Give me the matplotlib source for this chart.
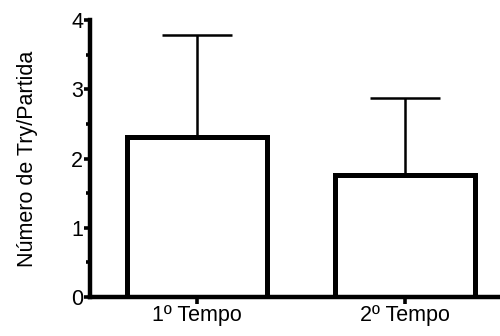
import matplotlib.pyplot as plt
import numpy as np
from matplotlib.ticker import MultipleLocator

plt.rcParams['font.family'] = ['Liberation Sans', 'DejaVu Sans']

categories = ['1º Tempo', '2º Tempo']
means = [2.31, 1.76]
errors = [1.47, 1.11]

fig = plt.figure(figsize=(5, 3.36), dpi=100)
ax = fig.add_axes([0.18, 0.116, 0.82, 0.824])

x = np.arange(len(categories))
ax.bar(x, means, width=0.67, color='white', edgecolor='black', linewidth=3.6, zorder=2)
ax.errorbar(x, means, yerr=[[0, 0], errors], fmt='none', ecolor='black',
            elinewidth=1.8, capsize=25, capthick=1.8, zorder=1)

ax.set_xlim(-0.514, 1.457)
ax.set_ylim(0, 4)
ax.set_xticks(x)
ax.set_xticklabels(categories, fontsize=15.5)
ax.yaxis.set_major_locator(MultipleLocator(1))
ax.yaxis.set_minor_locator(MultipleLocator(0.5))
ax.tick_params(axis='y', which='major', length=4, width=2.6, labelsize=15.5, pad=1)
ax.tick_params(axis='y', which='minor', length=3, width=2.6)
ax.tick_params(axis='x', length=5, width=2.6, pad=1)
ax.set_ylabel('Número de Try/Partida', fontsize=15.5, labelpad=24)

for s in ['top', 'right']:
    ax.spines[s].set_visible(False)
for s in ['left', 'bottom']:
    ax.spines[s].set_linewidth(3.2)

fig.savefig('out.png', dpi=100)
